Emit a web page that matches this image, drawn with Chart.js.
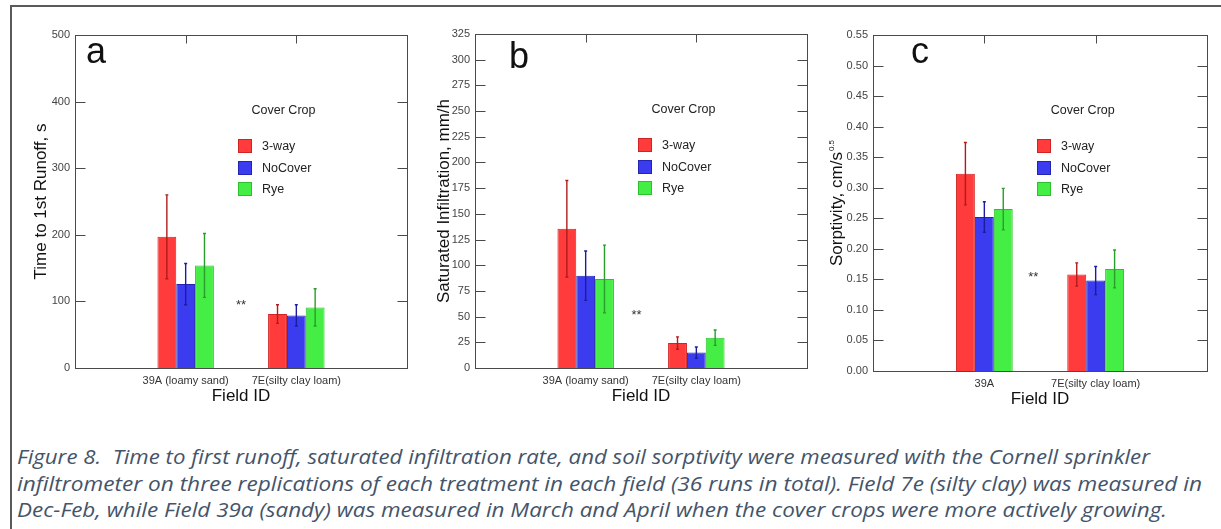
<!DOCTYPE html>
<html>
<head>
<meta charset="utf-8">
<script src="https://cdn.jsdelivr.net/npm/chart.js@4.4.1/dist/chart.umd.min.js"></script>
<style>
    html, body { margin: 0; padding: 0; background: #fff; }
    body { width: 1221px; height: 529px; position: relative; overflow: hidden; }
    .frame { position: absolute; left: 10px; top: 5px; width: 1400px; height: 700px;
             border-left: 2px solid #5a5a5a; border-top: 2px solid #5a5a5a; }
    .panel { position: absolute; top: 20px; }
    .caption { position: absolute; left: 17px; font-family: "Open Sans", sans-serif; font-style: italic;
               font-size: 20px; color: #44546A; white-space: nowrap; transform-origin: 0 50%; line-height: 26px; }
</style>
</head>
<body>
<div class="frame"></div>
<canvas id="chartA" class="panel" style="left:13px" width="400" height="390"></canvas>
<canvas id="chartB" class="panel" style="left:413px" width="400" height="390"></canvas>
<canvas id="chartC" class="panel" style="left:813px" width="400" height="390"></canvas>
<div class="caption" id="cap1" style="top:444px">Figure 8.&nbsp; Time to first runoff, saturated infiltration rate, and soil sorptivity were measured with the Cornell sprinkler</div>
<div class="caption" id="cap2" style="top:471px">infiltrometer on three replications of each treatment in each field (36 runs in total). Field 7e (silty clay) was measured in</div>
<div class="caption" id="cap3" style="top:497px">Dec-Feb, while Field 39a (sandy) was measured in March and April when the cover crops were more actively growing.</div>
<script>
// categories
const coverCrops = ['3-way', 'NoCover', 'Rye'];
const fieldsAB = ['39A (loamy sand)', '7E(silty clay loam)'];
const fieldsC = ['39A', '7E(silty clay loam)'];

// a: time to 1st runoff, s  (rows: 3-way, NoCover, Rye; cols: 39A, 7E)
const runoffMean = [[197, 81], [126, 79], [154, 91]];
const runoffErr = [[63, 14], [31, 16], [48, 28]];
const runoffTicks = [0, 100, 200, 300, 400, 500];
const runoffStars = [1.5, 100];

// b: saturated infiltration, mm/h
const infilMean = [[135.5, 24.3], [89.8, 15], [86.6, 29.5]];
const infilErr = [[47, 6], [24, 5.5], [33, 7.5]];
const infilTicks = [0, 25, 50, 75, 100, 125, 150, 175, 200, 225, 250, 275, 300, 325];
const infilStars = [1.46, 55];

// c: sorptivity, cm/s^0.5
const sorpMean = [[0.323, 0.158], [0.252, 0.148], [0.265, 0.167]];
const sorpErr = [[0.051, 0.019], [0.025, 0.023], [0.034, 0.031]];
const sorpTicks = [0, 0.05, 0.10, 0.15, 0.20, 0.25, 0.30, 0.35, 0.40, 0.45, 0.50, 0.55];
const sorpStars = [1.44, 0.16];

const cropFill = ['#ff3b3b', '#3b3bf0', '#44ee44'];
const cropEdge = ['#d02424', '#2424b4', '#2cc02c'];
const cropErr = ['#b01c1c', '#1c1ca0', '#2a9e2a'];

const FONT = '"Liberation Sans", Arial, sans-serif';
Chart.defaults.font.family = FONT;

function decorPlugin(p) {
    return {
        id: 'decor',
        afterDatasetsDraw: function (chart) {
            const ctx = chart.ctx;
            const area = chart.chartArea;
            const xs = chart.scales.x;
            const ys = chart.scales.y;
            ctx.save();

            // error bars
            chart.data.datasets.forEach(function (ds, di) {
                const meta = chart.getDatasetMeta(di);
                meta.data.forEach(function (bar, i) {
                    const v = ds.data[i];
                    const e = ds.errors[i];
                    if (v === null || e === null) return;
                    const yHi = ys.getPixelForValue(v + e);
                    const yLo = ys.getPixelForValue(v - e);
                    ctx.strokeStyle = ds.errorColor;
                    ctx.lineWidth = 1.4;
                    ctx.beginPath();
                    ctx.moveTo(bar.x, yHi);
                    ctx.lineTo(bar.x, yLo);
                    ctx.moveTo(bar.x - 1.5, yHi);
                    ctx.lineTo(bar.x + 1.5, yHi);
                    ctx.moveTo(bar.x - 1.5, yLo);
                    ctx.lineTo(bar.x + 1.5, yLo);
                    ctx.stroke();
                });
            });

            // frame and inward ticks
            const L = Math.round(area.left) + 0.5;
            const R = Math.round(area.right) + 0.5;
            const T = Math.round(area.top) + 0.5;
            const B = Math.round(area.bottom) + 0.5;
            ctx.strokeStyle = '#4a4a4a';
            ctx.lineWidth = 1;
            ctx.strokeRect(L, T, R - L, B - T);
            ctx.beginPath();
            ys.ticks.forEach(function (t, i) {
                const y = Math.round(ys.getPixelForTick(i)) + 0.5;
                ctx.moveTo(L, y);
                ctx.lineTo(L + 10, y);
                ctx.moveTo(R - 10, y);
                ctx.lineTo(R, y);
            });
            for (let i = 1; i < chart.data.labels.length - 1; i++) {
                const x = Math.round(xs.getPixelForTick(i)) + 0.5;
                ctx.moveTo(x, T);
                ctx.lineTo(x, T + 8);
            }
            ctx.stroke();

            // legend inside the plot
            const lx = Math.round(area.left + 0.49 * area.width);
            ctx.font = '12.5px ' + FONT;
            ctx.fillStyle = '#222';
            ctx.textAlign = 'center';
            ctx.textBaseline = 'middle';
            ctx.fillText('Cover Crop', area.left + 0.628 * area.width, area.top + 76);
            chart.data.datasets.forEach(function (ds, k) {
                const cy = Math.round(area.top + 111 + k * 21.7);
                ctx.fillStyle = ds.backgroundColor;
                ctx.fillRect(lx, cy - 7, 14, 14);
                ctx.strokeStyle = ds.borderColor;
                ctx.strokeRect(lx + 0.5, cy - 6.5, 13, 13);
                ctx.fillStyle = '#222';
                ctx.textAlign = 'left';
                ctx.fillText(ds.label, lx + 24, cy + 1);
            });

            // panel letter
            ctx.font = '36px ' + FONT;
            ctx.fillStyle = '#111';
            ctx.textAlign = 'left';
            ctx.textBaseline = 'alphabetic';
            ctx.fillText(p.letter, area.left + p.letterDx, area.top + p.letterDy);

            // significance mark
            ctx.font = '13px ' + FONT;
            ctx.fillStyle = '#333';
            ctx.textAlign = 'center';
            ctx.fillText('**', xs.getPixelForValue(p.stars[0]), ys.getPixelForValue(p.stars[1]) + 7.5);

            // y title with superscript (panel c)
            if (p.supTitle) {
                ctx.translate(area.left - 31, (area.top + area.bottom) / 2);
                ctx.rotate(-Math.PI / 2);
                ctx.font = '17px ' + FONT;
                ctx.fillStyle = '#111';
                ctx.textAlign = 'left';
                const wMain = ctx.measureText(p.supTitle[0]).width;
                ctx.font = '8px ' + FONT;
                const wSup = ctx.measureText(p.supTitle[1]).width;
                const x0 = -(wMain + wSup + 1) / 2;
                ctx.font = '17px ' + FONT;
                ctx.fillText(p.supTitle[0], x0, 0);
                ctx.font = '8px ' + FONT;
                ctx.fillText(p.supTitle[1], x0 + wMain + 1, -8);
            }
            ctx.restore();
        }
    };
}

function buildChart(id, p) {
    const labels = [''].concat(p.fields, ['']);
    const datasets = coverCrops.map(function (name, k) {
        return {
            label: name,
            data: [null].concat(p.means[k], [null]),
            errors: [null].concat(p.errs[k], [null]),
            backgroundColor: cropFill[k],
            borderColor: cropEdge[k],
            borderWidth: 1,
            errorColor: cropErr[k],
            categoryPercentage: 0.51,
            barPercentage: 1.0
        };
    });

    new Chart(document.getElementById(id), {
        type: 'bar',
        data: { labels: labels, datasets: datasets },
        options: {
            responsive: false,
            animation: false,
            layout: { padding: { top: p.padTop, right: p.padRight, left: 0, bottom: 0 } },
            plugins: {
                legend: { display: false },
                tooltip: { enabled: false }
            },
            scales: {
                x: {
                    offset: false,
                    grid: { display: false, drawTicks: false },
                    border: { display: false },
                    ticks: {
                        autoSkip: false,
                        maxRotation: 0,
                        minRotation: 0,
                        padding: 6,
                        color: '#333',
                        font: { size: 11 }
                    },
                    title: {
                        display: true,
                        text: 'Field ID',
                        color: '#111',
                        font: { size: 17 },
                        padding: { top: 0, bottom: p.xTitlePad }
                    },
                    afterFit: function (scale) { scale.height = p.xAxisHeight; }
                },
                y: {
                    min: 0,
                    max: p.ticks[p.ticks.length - 1],
                    grid: { display: false, drawTicks: false },
                    border: { display: false },
                    ticks: {
                        stepSize: p.ticks[1] - p.ticks[0],
                        padding: 5,
                        color: '#444',
                        font: { size: 11 },
                        callback: function (v) { return Number(v).toFixed(p.decimals); }
                    },
                    title: {
                        display: !p.supTitle,
                        text: p.yTitle,
                        color: '#111',
                        font: { size: 17 },
                        padding: { top: p.yTitlePad, bottom: 0 }
                    },
                    afterFit: function (scale) { scale.width = p.yAxisWidth; }
                }
            }
        },
        plugins: [decorPlugin(p)]
    });
}

buildChart('chartA', {
    fields: fieldsAB, means: runoffMean, errs: runoffErr, ticks: runoffTicks, decimals: 0,
    yTitle: 'Time to 1st Runoff, s', letter: 'a', letterDx: 11, letterDy: 28, stars: runoffStars,
    padTop: 15, padRight: 6, yAxisWidth: 62, xAxisHeight: 42, xTitlePad: 3, yTitlePad: 18
});
buildChart('chartB', {
    fields: fieldsAB, means: infilMean, errs: infilErr, ticks: infilTicks, decimals: 0,
    yTitle: 'Saturated Infiltration, mm/h', letter: 'b', letterDx: 34, letterDy: 34, stars: infilStars,
    padTop: 14, padRight: 5, yAxisWidth: 62, xAxisHeight: 42, xTitlePad: 3, yTitlePad: 21
});
buildChart('chartC', {
    fields: fieldsC, means: sorpMean, errs: sorpErr, ticks: sorpTicks, decimals: 2,
    yTitle: '', supTitle: ['Sorptivity, cm/s', '0.5'], letter: 'c', letterDx: 38, letterDy: 28, stars: sorpStars,
    padTop: 15, padRight: 6, yAxisWidth: 60, xAxisHeight: 39, xTitlePad: 0, yTitlePad: 20
});

// squeeze caption lines to the widths they have in the figure
const captionWidths = { cap1: 1133, cap2: 1185, cap3: 1150 };
function fitCaption() {
    Object.keys(captionWidths).forEach(function (id) {
        const el = document.getElementById(id);
        el.style.transform = 'none';
        const w = el.getBoundingClientRect().width;
        el.style.transform = 'scaleX(' + (captionWidths[id] / w) + ')';
    });
}
fitCaption();
if (document.fonts) document.fonts.ready.then(fitCaption);
</script>
</body>
</html>
